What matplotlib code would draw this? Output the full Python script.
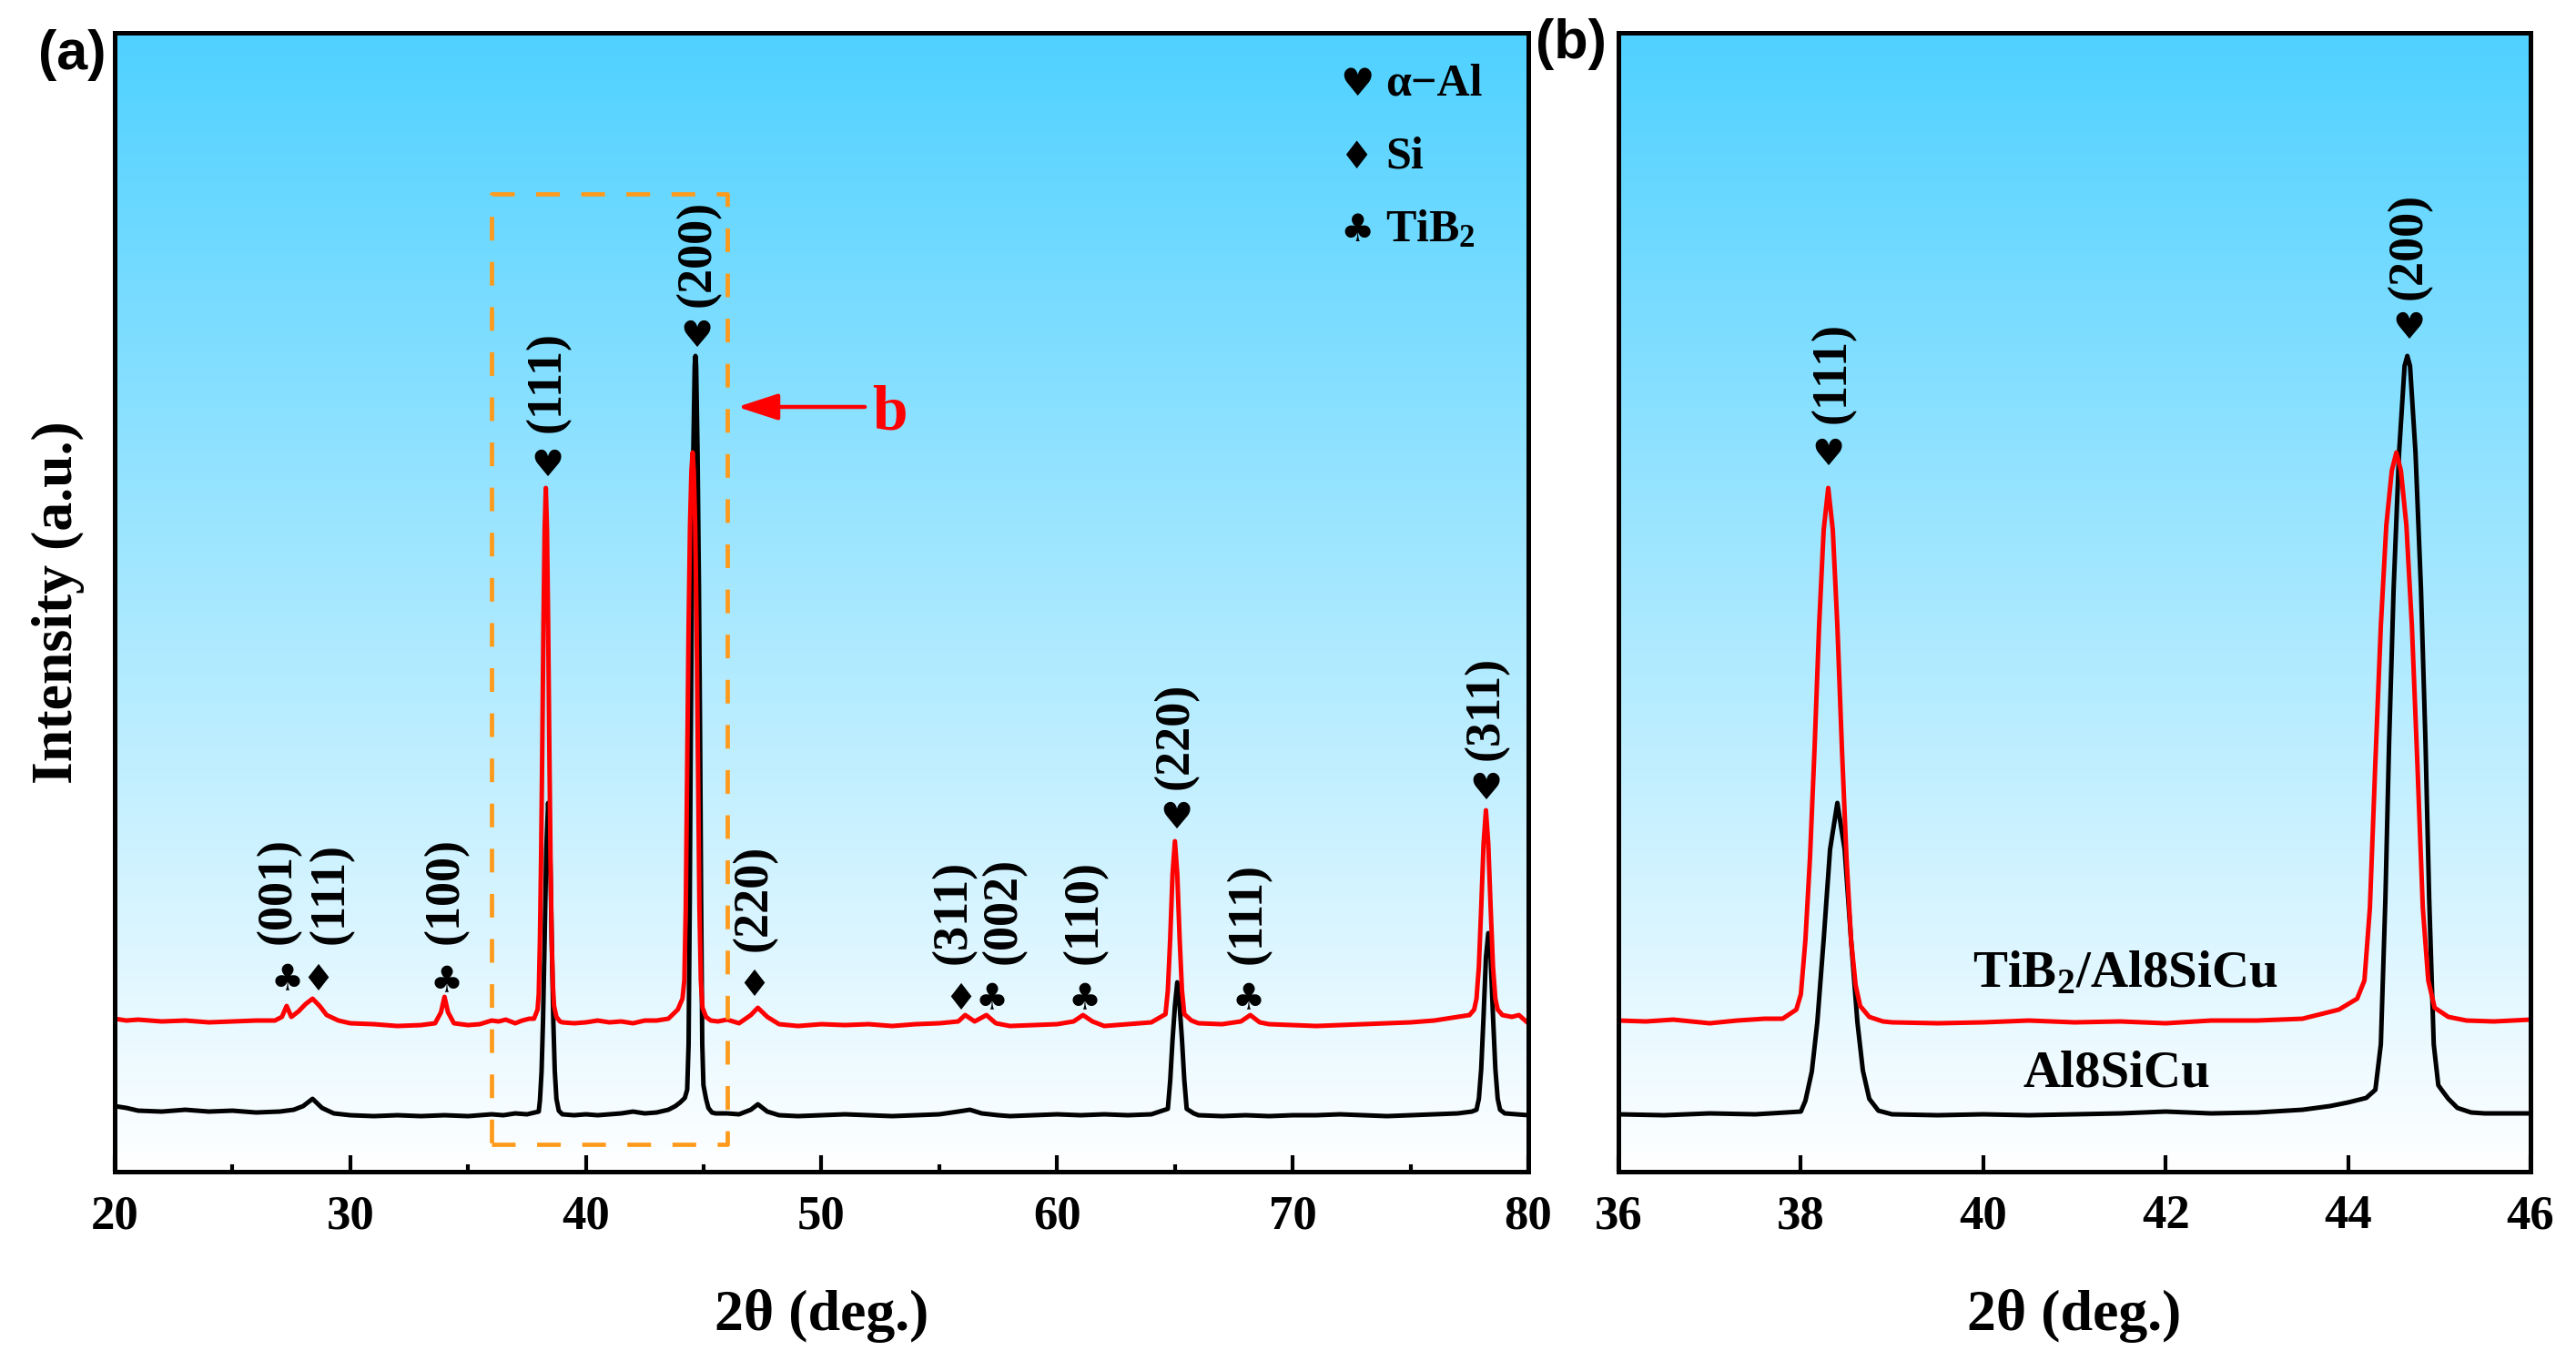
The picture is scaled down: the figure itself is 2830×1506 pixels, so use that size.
import numpy as np
import matplotlib.pyplot as plt
from matplotlib.ticker import MultipleLocator

plt.rcParams['font.family'] = ['Liberation Serif', 'DejaVu Sans']
plt.rcParams['font.weight'] = 'bold'
plt.rcParams['axes.labelweight'] = 'bold'
plt.rcParams['mathtext.fontset'] = 'custom'
plt.rcParams['mathtext.rm'] = 'Liberation Serif:bold'
plt.rcParams['mathtext.it'] = 'Liberation Serif:italic:bold'
plt.rcParams['mathtext.bf'] = 'Liberation Serif:bold'

# digitised XRD patterns (2theta in deg, intensity in a.u.)
base_x = [20, 20.5, 21, 22, 23, 24, 25, 26, 27, 27.6, 28.0, 28.4, 28.8, 29.3, 30, 31, 32, 33, 34, 35,
          36, 36.5, 37, 37.5, 38.0, 38.05, 38.12, 38.18, 38.25, 38.32, 38.40, 38.48, 38.55, 38.62, 38.68,
          38.75, 38.85, 39.0, 39.5, 40.0, 40.5, 41.0, 41.5, 42.0, 42.5, 43.0, 43.5, 43.8, 44.0, 44.2,
          44.30, 44.36, 44.41, 44.45, 44.50, 44.56, 44.62, 44.65, 44.68, 44.74, 44.80, 44.85, 44.89,
          44.94, 44.99, 45.04, 45.10, 45.20, 45.35, 45.5, 46.0, 46.5, 47.0, 47.3, 47.7, 48.2, 49, 50,
          51, 52, 53, 54, 55, 55.8, 56.3, 56.8, 57.5, 58, 59, 60, 61, 62, 63, 64, 64.7, 64.8, 64.9,
          65.0, 65.1, 65.2, 65.3, 65.4, 65.5, 65.8, 66, 67, 68, 69, 70, 71, 72, 73, 74, 75, 76, 77,
          77.6, 77.8, 77.9, 78.0, 78.1, 78.2, 78.3, 78.4, 78.5, 78.6, 78.7, 78.8, 79, 79.5, 80]
base_y = [72, 70, 67, 66, 68, 66, 67, 65, 66, 68, 72, 80, 70, 64, 62, 61, 62, 61, 62, 61,
          63, 62, 64, 63, 66, 78, 110, 164, 255, 354, 405, 354, 255, 164, 111,
          80, 67, 63, 62, 63, 62, 63, 64, 66, 64, 65, 68, 72, 76, 81,
          90, 140, 300, 470, 640, 790, 885, 896, 885, 790, 640, 470, 300,
          140, 95, 88, 80, 70, 65, 64, 64, 63, 68, 74, 66, 62, 61, 62,
          63, 62, 61, 62, 63, 66, 68, 64, 62, 61, 62, 63, 62, 63, 62, 63, 69, 100, 145,
          182, 208, 182, 145, 100, 69, 64, 62, 61, 62, 61, 62, 62, 63, 62, 61, 62, 63, 64,
          66, 68, 80, 113, 171, 235, 262, 235, 171, 113, 80, 68, 64, 63, 62]

tib2_x = [20, 20.5, 21, 22, 23, 24, 25, 26, 26.8, 27.1, 27.3, 27.5, 27.8, 28.1, 28.4, 28.7, 29.0,
          29.5, 30, 31, 32, 33, 33.6, 33.85, 34.0, 34.15, 34.4, 35, 35.5, 36.0, 36.3, 36.6, 37.0,
          37.3, 37.6, 37.80, 37.95, 38.00, 38.05, 38.10, 38.15, 38.20, 38.25, 38.30, 38.35, 38.40,
          38.45, 38.50, 38.55, 38.60, 38.65, 38.75, 38.9, 39.0, 39.5, 40.0, 40.5, 41.0, 41.5, 42.0,
          42.5, 43.0, 43.5, 43.9, 44.1, 44.18, 44.24, 44.30, 44.36, 44.42, 44.48, 44.53, 44.58,
          44.64, 44.70, 44.76, 44.82, 44.88, 44.95, 45.1, 45.3, 45.6, 46.0, 46.5, 47.0, 47.3, 47.7,
          48.2, 49, 50, 51, 52, 53, 54, 55, 55.8, 56.1, 56.5, 57.0, 57.4, 58, 59, 60, 60.7, 61.1,
          61.5, 62, 63, 64, 64.6, 64.7, 64.8, 64.9, 65.0, 65.1, 65.2, 65.3, 65.4, 65.7, 66, 67,
          67.8, 68.2, 68.6, 69, 70, 71, 72, 73, 74, 75, 76, 77, 77.5, 77.7, 77.8, 77.9, 78.0, 78.1,
          78.2, 78.3, 78.4, 78.5, 78.6, 78.7, 78.9, 79.3, 79.6, 80]
tib2_y = [168, 166, 167, 165, 166, 164, 165, 166, 166, 170, 182, 170, 176, 184, 190, 182, 172,
          166, 163, 162, 160, 161, 163, 175, 192, 175, 163, 161, 162, 166, 165, 167, 163,
          166, 168, 168, 178, 195, 255, 345, 465, 600, 705, 751, 705, 600,
          465, 345, 255, 205, 182, 170, 165, 164, 163, 164, 166, 164, 165, 163,
          166, 166, 168, 178, 190, 210, 290, 450, 600, 710, 770, 790, 770,
          710, 600, 450, 290, 210, 180, 170, 166, 165, 167, 163, 172, 180, 170,
          162, 160, 162, 161, 162, 160, 162, 163, 165, 172, 165, 172, 163, 160, 161, 162, 165, 172,
          165, 160, 162, 164, 173, 199, 256, 327, 363, 327, 256, 199, 173, 166, 163, 162,
          165, 172, 164, 162, 161, 160, 161, 162, 163, 164, 166, 170, 172, 178, 190, 225, 290, 360,
          397, 360, 290, 225, 190, 178, 172, 170, 172, 163]

# peak markers: symbol, x, y, hkl label, label x, label bottom
marks_a = [('♣', 27.33, 210, '(001)', 26.95, 250),
           ('♦', 28.64, 210, '(111)', 29.2, 250),
           ('♣', 34.07, 208, '(100)', 34.07, 250),
           ('♥', 38.38, 775, '(111)', 38.4, 812),
           ('♥', 44.70, 917, '(200)', 44.75, 950),
           ('♦', 47.12, 204, '(220)', 47.15, 242),
           ('♦', 55.90, 189, '(311)', 55.6, 228),
           ('♣', 57.24, 189, '(002)', 57.75, 228),
           ('♣', 61.18, 189, '(110)', 61.18, 228),
           ('♥', 65.05, 388, '(220)', 65.05, 420),
           ('♣', 68.12, 189, '(111)', 68.14, 228),
           ('♥', 78.20, 420, '(311)', 78.2, 452)]
marks_b = [('♥', 38.30, 787, '(111)', 38.35, 822),
           ('♥', 44.67, 926, '(200)', 44.67, 958)]

legend_sym = ['♥', '♦', '♣']
legend_txt = ['α−Al', 'Si', 'TiB$_2$']

sky_top = np.array([0.31, 0.82, 1.0])


def sky(ax):
    t = np.linspace(0, 1, 300)[:, None, None]
    img = (1 - t) * sky_top + t * np.ones(3)
    img = np.repeat(img, 2, axis=1)
    ax.imshow(img, extent=[0, 1, 0, 1], transform=ax.transAxes, aspect='auto',
              zorder=0, interpolation='bilinear')


def style(ax):
    for s in ax.spines.values():
        s.set_linewidth(1.8)
        s.set_zorder(6)
    ax.set_yticks([])
    ax.tick_params(axis='x', which='major', direction='in', length=6.5, width=1.5,
                   labelsize=19, pad=9, top=False)
    ax.tick_params(axis='x', which='minor', direction='in', length=3, width=1.5, top=False)
    ax.set_xlabel('2θ (deg.)', fontsize=23, labelpad=20)
    ax.set_ylim(0, 1251)


def marks(ax, rows):
    for sym, sx, sy, lab, lx, ly in rows:
        ax.text(sx, sy, sym, family='DejaVu Sans', fontsize=14.5, ha='center', va='center', zorder=7)
        ax.text(lx, ly, lab, rotation=90, fontsize=19.5, ha='center', va='bottom', zorder=7)


fig = plt.figure(figsize=(14.15, 7.53), dpi=200)
ax1 = fig.add_axes([0.0445, 0.1454, 0.5488, 0.8307])
ax2 = fig.add_axes([0.6283, 0.1454, 0.3540, 0.8307])

for ax in (ax1, ax2):
    sky(ax)
    ax.plot(base_x, base_y, color='black', lw=1.8, zorder=3)
    ax.plot(tib2_x, tib2_y, color='red', lw=1.8, zorder=4)
    style(ax)

# panel (a)
ax1.set_xlim(20, 80)
ax1.xaxis.set_major_locator(MultipleLocator(10))
ax1.xaxis.set_minor_locator(MultipleLocator(5))
ax1.set_ylabel('Intensity (a.u.)', fontsize=23, labelpad=12)
ax1.set_ylim(0, 1251)
marks(ax1, marks_a)

ax1.plot([36, 46, 46, 36, 36], [30, 30, 1074, 1074, 30], color='#FF9A1A', lw=1.7,
         ls=(0, (5.5, 5)), zorder=5)
ax1.annotate('', xy=(46.43, 840), xytext=(51.84, 840),
             arrowprops=dict(arrowstyle='-|>,head_length=0.4,head_width=0.13',
                             color='red', lw=1.6, mutation_scale=34, shrinkA=0, shrinkB=0))
ax1.text(52.9, 833, 'b', color='red', fontsize=25, ha='center', va='center')

for i in range(3):
    yy = 1194 - 80 * i
    ax1.text(72.74, yy, legend_sym[i], family='DejaVu Sans', fontsize=15, ha='center', va='center')
    ax1.text(73.94, yy, legend_txt[i], fontsize=18, ha='left', va='center')

# panel (b)
ax2.set_xlim(36, 46)
ax2.xaxis.set_major_locator(MultipleLocator(2))
ax2.set_ylim(0, 1251)
marks(ax2, marks_b)
ax2.text(41.56, 217, 'TiB$_2$/Al8SiCu', fontsize=20.5, ha='center', va='center')
ax2.text(41.46, 108, 'Al8SiCu', fontsize=20.5, ha='center', va='center')

fig.text(0.028, 0.960, '(a)', family='Liberation Sans', fontsize=22, weight='bold',
         ha='center', va='center')
fig.text(0.610, 0.968, '(b)', family='Liberation Sans', fontsize=22, weight='bold',
         ha='center', va='center')

plt.savefig('out.png', dpi=200)
